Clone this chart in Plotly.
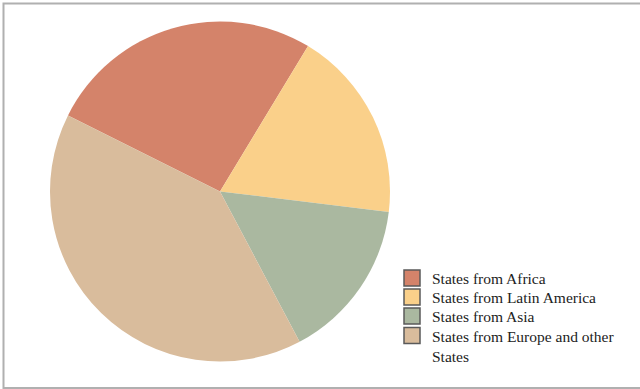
import plotly.graph_objects as go

labels = ["States from Africa", "States from Latin America", "States from Asia",
          "States from Europe and other<br>States"]
values = [36, 25, 21, 55]
colors = ["#D4836A", "#FAD08A", "#AAB8A0", "#D9BC9C"]

W, H = 640, 389
cx, cy, r = 220, 191.5, 170

fig = go.Figure()
fig.add_trace(go.Pie(
    labels=labels, values=values, sort=False, direction="clockwise",
    rotation=-63.4, textinfo="none", hoverinfo="label+value",
    marker=dict(colors=colors, line=dict(width=0)),
    showlegend=False,
    domain=dict(x=[(cx - r) / W, (cx + r) / W], y=[(H - cy - r) / H, (H - cy + r) / H]),
))
legend_ids = ["legend", "legend2", "legend3", "legend4"]
for lab, col, lid in zip(labels, colors, legend_ids):
    fig.add_trace(go.Scatter(
        x=[None], y=[None], mode="markers", name=lab, legend=lid,
        marker=dict(symbol="square", size=16, color=col, line=dict(color="#5a5a5a", width=1.5)),
    ))

item_centers = [277.3, 296.5, 315.5, 335]
legend_common = dict(xanchor="left", yanchor="top", valign="top", itemwidth=30,
                     bgcolor="rgba(0,0,0,0)", x=392 / W)
layout_legends = {}
for lid, c in zip(legend_ids, item_centers):
    layout_legends[lid] = dict(legend_common, y=1 - (c - 16) / H)

fig.update_layout(
    width=W, height=H,
    margin=dict(l=0, r=0, t=0, b=0),
    paper_bgcolor="white", plot_bgcolor="white",
    xaxis=dict(visible=False), yaxis=dict(visible=False),
    font=dict(family="Liberation Serif, serif", size=15.5, color="#222"),
    shapes=[dict(type="rect", xref="paper", yref="paper",
                 x0=3.5 / W, x1=1.02, y0=1 - 388 / H, y1=1 - 3.5 / H,
                 line=dict(color="#b0b0b0", width=2), fillcolor="rgba(0,0,0,0)")],
    **layout_legends,
)
fig.write_html("out.html", config={"displayModeBar": False},
               post_script="document.body.style.margin='0px';")
